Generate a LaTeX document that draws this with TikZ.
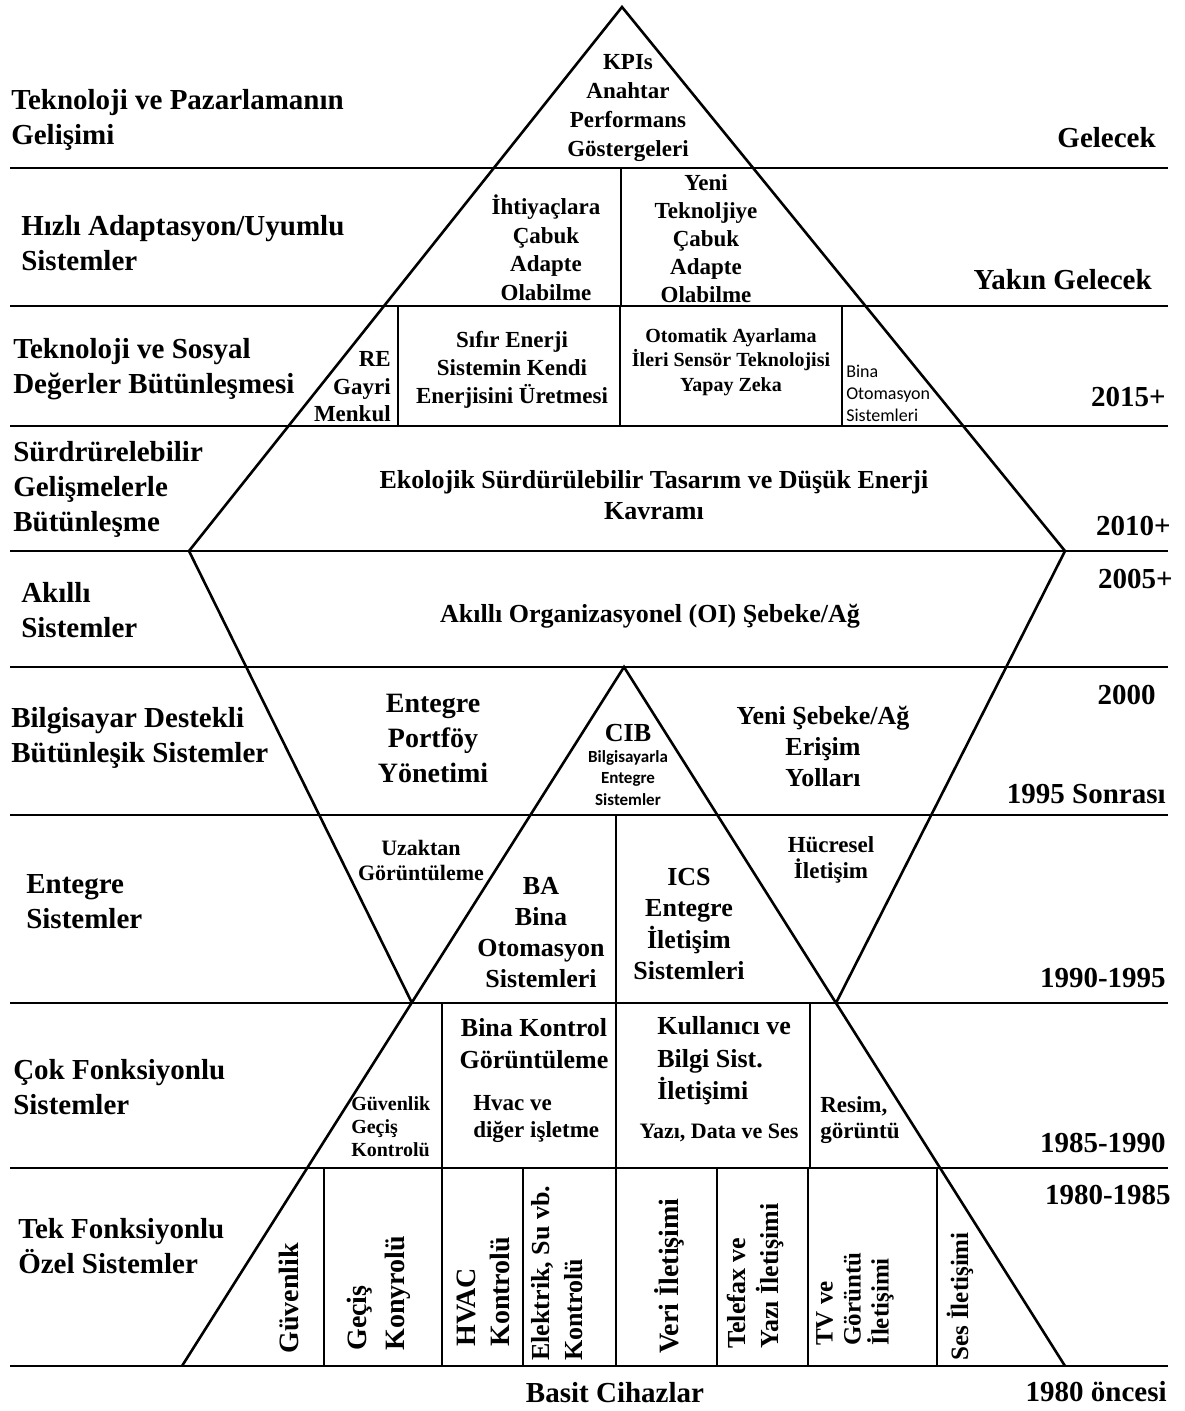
\documentclass[tikz,border=0pt]{standalone}
\usepackage{fontspec}
\setmainfont{Liberation Serif}
\newfontfamily\sansf{Carlito}
\usepackage{tikz}
\usetikzlibrary{positioning,calc}

\newcommand{\fsz}[2]{\fontsize{#1}{#2}\selectfont\bfseries}

\begin{document}
\begin{tikzpicture}[x=1pt, y=-1pt, every path/.style={line width=2.6pt},
  side/.style={anchor=west, align=left, inner sep=0pt, font=\fsz{29}{35}},
  year/.style={anchor=east, align=right, inner sep=0pt, font=\fsz{29}{35}},
  cell/.style={align=center, inner sep=0pt},
  vcell/.style={rotate=90, anchor=west, align=left, inner sep=0pt}]

\fill[white] (0,0) rectangle (1185,1411);
\useasboundingbox (0,0) rectangle (1185,1411);

% band lines
\foreach \y in {168,306,426,551,667,815,1003,1168,1366}
  \draw (10,\y) -- (1168,\y);

% star shape
\coordinate (apex) at (622,7);
\coordinate (ul) at (189,551);
\coordinate (ur) at (1065,551);
\coordinate (vl) at (412,1003);
\coordinate (vr) at (836,1003);
\coordinate (lapex) at (624,667);
\coordinate (ll) at (182,1366);
\coordinate (lr) at (1065,1366);

\draw (ul) -- (apex) -- (ur);
\draw (ul) -- (vl) (ur) -- (vr);
\draw (ll) -- (lapex) -- (lr);

% dividers
\draw (621,168) -- (621,306);
\foreach \x in {398,620,842} \draw (\x,306) -- (\x,426);
\draw (616,815) -- (616,1003);
\foreach \x in {442,616,810} \draw (\x,1003) -- (\x,1168);
\foreach \x in {324,442,523,616,717,808,937} \draw (\x,1168) -- (\x,1366);

% -------------------------------
% left labels
\node[side] (s1) at (10,120) {Teknoloji ve Pazarlamanın\\Gelişimi};
\node[side] (s2) at (20,243) {Hızlı Adaptasyon/Uyumlu\\Sistemler};
\node[side] (s3) at (12,369) {Teknoloji ve Sosyal\\Değerler Bütünleşmesi};
\node[side] (s4) at (12,489) {Sürdrürelebilir\\Gelişmelerle\\Bütünleşme};
\node[side] (s5) at (20,610) {Akıllı\\Sistemler};
\node[side] (s6) at (10,738) {Bilgisayar Destekli\\Bütünleşik Sistemler};
\node[side] (s7) at (25,902) {Entegre\\Sistemler};
\node[side] (s8) at (12,1087) {Çok Fonksiyonlu\\Sistemler};
\node[side] (s9) at (17,1246) {Tek Fonksiyonlu\\Özel Sistemler};

% right labels
\node[year] (y1) at (1157,138) {Gelecek};
\node[year] (y2) at (1153,280) {Yakın Gelecek};
\node[year] (y3) at (1167,397) {2015+};
\node[year] (y4) at (1172,526) {2010+};
\node[year] (y5) at (1174,579) {2005+};
\node[year] (y6) at (1157,695) {2000};
\node[year] (y7) at (1167,794) {1995 Sonrası};
\node[year] (y8) at (1167,978) {1990-1995};
\node[year] (y9) at (1167,1143) {1985-1990};
\node[year] (y10) at (1172,1195) {1980-1985};
\node[year] (y11) at (1168,1392) {1980 öncesi};
\node[cell, font=\fsz{29}{35}] (basit) at (615,1393) {Basit Cihazlar};

% -------------------------------
% inside the star
\node[cell, font=\fsz{23}{29}] (kpi) at (628,108) {KPIs\\Anahtar\\Performans\\Göstergeleri};

\node[cell, font=\fsz{23}{28.5}] (ihtiyac) at (546,248) {İhtiyaçlara\\Çabuk\\Adapte\\Olabilme};
\node[cell, font=\fsz{23}{28}] (yenitek) at (706,239) {Yeni\\Teknoljiye\\Çabuk\\Adapte\\Olabilme};

\node[anchor=east, align=right, inner sep=0pt, font=\fsz{23}{27.5}] (re) at (392,387) {RE\\Gayri\\Menkul};
\node[cell, font=\fsz{23}{28}] (sifir) at (512,370) {Sıfır Enerji\\Sistemin Kendi\\Enerjisini Üretmesi};
\node[cell, font=\fsz{20}{24.5}] (otomatik) at (731,362) {Otomatik Ayarlama\\İleri Sensör Teknolojisi\\Yapay Zeka};
\node[anchor=west, align=left, inner sep=0pt, font=\sansf\fontsize{18}{22}\selectfont] (binaoto) at (845,393) {Bina\\Otomasyon\\Sistemleri};

\node[cell, font=\fsz{26}{31}] (ekolojik) at (654,495) {Ekolojik Sürdürülebilir Tasarım ve Düşük Enerji\\Kavramı};

\node[cell, font=\fsz{26}{31}] (akilli) at (650,616) {Akıllı Organizasyonel (OI) Şebeke/Ağ};

\node[cell, font=\fsz{28}{35}] (portfoy) at (433,738) {Entegre\\Portföy\\Yönetimi};
\node[cell, font=\fsz{26}{31}] (cib) at (628,733) {CIB};
\node[cell, font=\sansf\bfseries\fontsize{17}{21.5}\selectfont] (cibtxt) at (628,778) {Bilgisayarla\\Entegre\\Sistemler};
\node[cell, font=\fsz{26}{31}] (yenisebeke) at (823,746) {Yeni Şebeke/Ağ\\Erişim\\Yolları};

\node[cell, font=\fsz{22}{25}] (uzaktan) at (421,860) {Uzaktan\\Görüntüleme};
\node[cell, font=\fsz{26}{31}] (ba) at (541,933) {BA\\Bina\\Otomasyon\\Sistemleri};
\node[cell, font=\fsz{26}{31.5}] (ics) at (689,924) {ICS\\Entegre\\İletişim\\Sistemleri};
\node[cell, font=\fsz{23}{26}] (hucresel) at (831,860) {Hücresel\\İletişim};

\node[anchor=west, align=left, inner sep=0pt, font=\fsz{20}{23}] (guvgecis) at (350,1127) {Güvenlik\\Geçiş\\Kontrolü};
\node[cell, font=\fsz{26}{32}] (binakontrol) at (534,1044) {Bina Kontrol\\Görüntüleme};
\node[anchor=west, align=left, inner sep=0pt, font=\fsz{23}{27}] (hvac) at (472,1119) {Hvac ve\\diğer işletme};
\node[anchor=west, align=left, inner sep=0pt, font=\fsz{26}{32.5}] (kullanici) at (656,1061) {Kullanıcı ve\\Bilgi Sist.\\İletişimi};
\node[cell, font=\fsz{22}{26}] (yazidata) at (719,1133) {Yazı, Data ve Ses};
\node[anchor=west, align=left, inner sep=0pt, font=\fsz{23}{26}] (resim) at (819,1120) {Resim,\\görüntü};

% single function columns
\node[vcell, font=\fsz{28}{34}] (c1) at (289,1355) {Güvenlik};
\node[vcell, font=\fsz{28}{38}] (c2) at (379,1352) {Geçiş\\Konyrolü};
\node[vcell, font=\fsz{28}{34}] (c3) at (483,1348) {HVAC\\Kontrolü};
\node[vcell, font=\fsz{26}{33}] (c4) at (557,1362) {Elektrik, Su vb.\\Kontrolü};
\node[vcell, font=\fsz{28}{34}] (c5) at (669,1355) {Veri İletişimi};
\node[vcell, font=\fsz{26}{33}] (c6) at (756,1350) {Telefax ve\\Yazı İletişimi};
\node[vcell, font=\fsz{25}{28}] (c7) at (855,1347) {TV ve\\Görüntü\\İletişimi};
\node[vcell, font=\fsz{25}{30}] (c8) at (960,1362) {Ses İletişimi};
\end{tikzpicture}
\end{document}
